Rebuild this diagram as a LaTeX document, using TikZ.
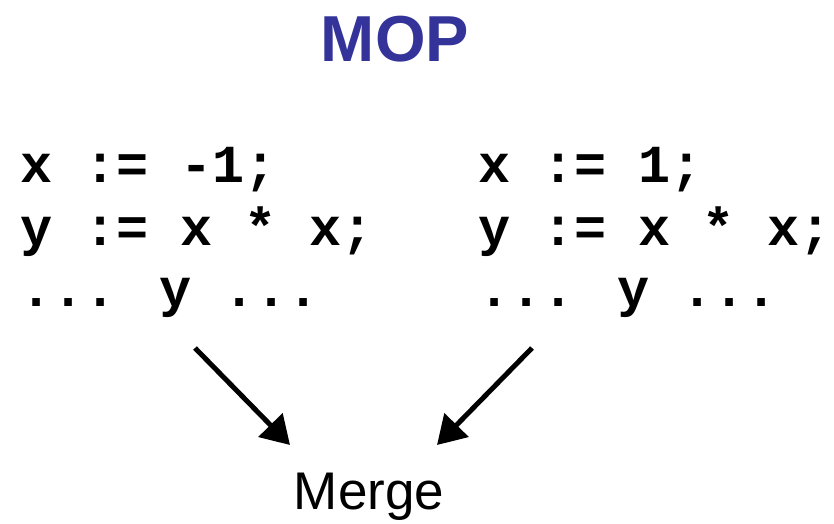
\documentclass[tikz,border=0pt]{standalone}
\usepackage{fontspec}
\setmainfont{Liberation Sans}
\newfontfamily\codefont{Liberation Mono}
\usetikzlibrary{arrows.meta}
\definecolor{titleblue}{RGB}{51,51,153}
\tikzset{
  codeline/.style={anchor=base west, inner sep=0pt, font=\codefont\bfseries\fontsize{53.5}{62}\selectfont},
  flow/.style={line width=5pt, -{Triangle[length=28pt,width=33pt]}}
}
\begin{document}
\begin{tikzpicture}[x=1pt, y=1pt]
\useasboundingbox (0,0) rectangle (834,523);
% Title
\node[anchor=base, inner sep=0pt, text=titleblue, font=\bfseries\fontsize{65}{70}\selectfont] (title) at (395, 461) {MOP};

% Left path
\node[codeline] (lx) at (20, 341) {x := -1;};
\node[codeline] (ly) at (20, 278) {y := x * x;};
\node[codeline] (luse) at (20, 217) {... y ...};

% Right path
\node[codeline] (rx) at (478, 341) {x := 1;};
\node[codeline] (ry) at (478, 278) {y := x * x;};
\node[codeline] (ruse) at (478, 217) {... y ...};

% Merge point
\node[anchor=base, inner sep=0pt, font=\fontsize{53}{60}\selectfont] (merge) at (369, 14) {Merge};
\coordinate (lfrom) at (195, 175);
\coordinate (lto) at (290, 78);
\coordinate (rfrom) at (532, 175);
\coordinate (rto) at (437, 78);
\draw[flow] (lfrom) -- (lto);
\draw[flow] (rfrom) -- (rto);
\end{tikzpicture}
\end{document}
